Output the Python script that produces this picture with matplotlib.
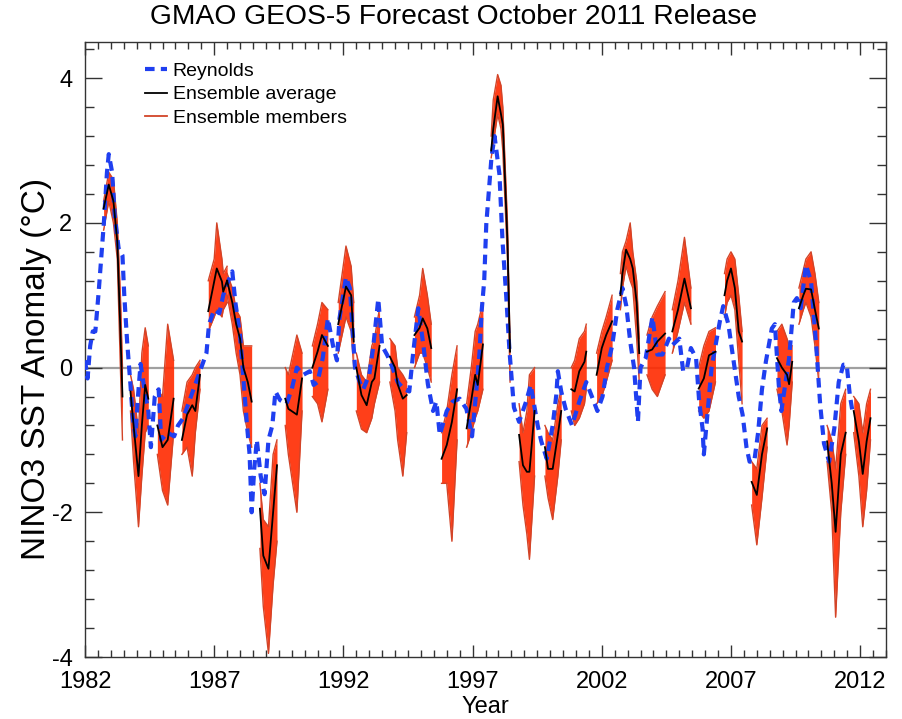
import matplotlib
matplotlib.use("Agg")
import matplotlib.pyplot as plt
from matplotlib.ticker import MultipleLocator
from matplotlib.lines import Line2D

plt.rcParams['font.family'] = ['Liberation Sans', 'DejaVu Sans']
plt.rcParams['axes.unicode_minus'] = False

reynolds_year = [1982.0, 1982.1, 1982.2, 1982.3, 1982.4, 1982.53, 1982.73, 1982.85, 1982.92,
                 1983.05, 1983.15, 1983.3, 1983.45, 1983.52, 1983.63, 1983.76, 1983.85, 1983.95,
                 1984.05, 1984.15, 1984.3, 1984.45, 1984.55, 1984.7, 1984.85, 1984.95, 1985.2,
                 1985.45, 1985.6, 1985.8, 1986.05, 1986.25, 1986.5, 1986.7, 1986.8, 1987.0,
                 1987.2, 1987.35, 1987.55, 1987.7, 1987.82, 1988.0, 1988.15, 1988.27, 1988.37,
                 1988.45, 1988.55, 1988.65, 1988.8, 1988.95, 1989.1, 1989.25, 1989.37, 1989.55,
                 1989.8, 1990.0, 1990.2, 1990.45, 1990.7, 1990.85, 1991.0, 1991.2, 1991.4,
                 1991.6, 1991.75, 1991.85, 1992.1, 1992.25, 1992.45, 1992.63, 1992.77, 1993.0,
                 1993.15, 1993.35, 1993.5, 1993.7, 1993.9, 1994.1, 1994.35, 1994.55, 1994.7,
                 1994.9, 1995.1, 1995.27, 1995.47, 1995.6, 1995.73, 1996.0, 1996.23, 1996.5,
                 1996.76, 1996.98, 1997.15, 1997.27, 1997.35, 1997.45, 1997.53, 1997.73, 1997.85,
                 1998.04, 1998.16, 1998.3, 1998.43, 1998.6, 1998.8, 1999.07, 1999.25, 1999.52,
                 1999.66, 1999.87, 2000.1, 2000.24, 2000.3, 2000.43, 2000.6, 2000.85, 2001.13,
                 2001.4, 2001.65, 2001.83, 2002.03, 2002.2, 2002.4, 2002.6, 2002.8, 2002.95,
                 2003.1, 2003.25, 2003.4, 2003.5, 2003.7, 2003.96, 2004.15, 2004.35, 2004.6,
                 2004.73, 2005.0, 2005.15, 2005.3, 2005.45, 2005.65, 2005.77, 2005.9, 2005.95,
                 2006.05, 2006.25, 2006.57, 2006.7, 2006.9, 2007.05, 2007.3, 2007.45, 2007.6,
                 2007.72, 2007.9, 2008.05, 2008.2, 2008.35, 2008.58, 2008.7, 2008.85, 2008.95,
                 2009.1, 2009.25, 2009.43, 2009.55, 2009.7, 2009.9, 2010.1, 2010.3, 2010.45,
                 2010.6, 2010.8, 2011.0, 2011.17, 2011.35, 2011.48, 2011.6, 2011.7]
reynolds_val = [0.1, -0.15, 0.3, 0.5, 0.5, 1.05, 2.0, 2.7, 2.95,
                2.7, 2.1, 1.65, 1.55, 1.0, 0.36, -0.24, -0.7, -0.95,
                -0.4, 0.05, -0.3, -0.6, -1.1, -0.4, -0.3, -1.0, -0.9,
                -0.95, -0.8, -0.7, -0.45, -0.25, 0.0, 0.2, 0.6, 0.8,
                0.75, 1.0, 1.2, 1.33, 0.9, 0.45, -0.24, -0.8, -1.2,
                -2.0, -1.4, -1.0, -1.5, -1.75, -1.0, -0.8, -0.33, -0.45,
                -0.5, -0.3, 0.0, -0.1, -0.05, -0.24, -0.2, 0.13, 0.68,
                0.3, 0.1, 0.68, 1.25, 1.1, 0.0, -0.2, -0.3, -0.1,
                0.27, 0.95, 0.3, 0.17, 0.0, -0.2, -0.3, -0.33, 0.2,
                0.82, 0.3, -0.23, -0.6, -0.47, -0.93, -0.6, -0.47, -0.43,
                -0.57, -0.95, -0.3, 0.22, 0.78, 1.2, 1.98, 2.9, 3.2,
                2.67, 1.74, 1.0, 0.22, -0.55, -0.75, -0.47, -0.24, -0.8,
                -1.02, -1.26, -0.8, -0.38, -0.05, -0.33, -0.57, -0.8, -0.47,
                -0.2, -0.43, -0.6, -0.4, 0.0, 0.3, 0.8, 1.1, 0.85,
                0.36, 0.0, -0.75, 0.0, 0.13, 0.7, 0.18, 0.18, 0.4,
                0.31, 0.4, -0.05, 0.0, 0.27, 0.13, -0.47, -0.84, -1.2,
                -0.8, 0.0, 0.64, 0.85, 0.6, 0.22, -0.4, -0.65, -1.1,
                -1.3, -1.3, -0.9, -0.3, 0.08, 0.54, 0.6, -0.24, -0.6,
                -0.24, 0.13, 0.9, 0.96, 0.82, 1.42, 1.19, 0.3, -0.5,
                -1.05, -1.3, -0.84, -0.2, 0.04, 0.04, -0.38, -0.6]

# GEOS-5 forecasts: one entry per forecast period
ens_years = [
    [1982.72, 1982.92, 1983.1, 1983.25, 1983.37, 1983.45],
    [1983.76, 1983.88, 1984.07, 1984.2, 1984.33, 1984.45],
    [1984.8, 1985.0, 1985.2, 1985.43],
    [1985.75, 1985.95, 1986.15, 1986.27, 1986.45],
    [1986.77, 1987.0, 1987.1, 1987.3, 1987.35, 1987.5],
    [1987.5, 1987.7, 1987.85, 1988.0, 1988.13, 1988.3, 1988.45],
    [1988.77, 1988.9, 1989.1, 1989.28, 1989.43],
    [1989.75, 1989.87, 1990.2, 1990.4],
    [1990.8, 1991.0, 1991.17, 1991.4],
    [1991.8, 1992.1, 1992.3, 1992.4],
    [1992.5, 1992.7, 1992.9, 1993.1, 1993.2, 1993.4],
    [1993.8, 1994.0, 1994.1, 1994.3, 1994.45],
    [1994.75, 1994.95, 1995.07, 1995.25, 1995.4],
    [1995.8, 1996.0, 1996.2, 1996.4],
    [1996.77, 1996.95, 1997.1, 1997.2, 1997.4],
    [1997.72, 1997.8, 1997.97, 1998.1, 1998.17, 1998.35, 1998.45],
    [1998.8, 1998.95, 1999.1, 1999.2, 1999.4],
    [1999.8, 1999.92, 2000.1, 2000.3, 2000.43],
    [2000.82, 2000.95, 2001.13, 2001.33, 2001.4],
    [2001.8, 2002.0, 2002.17, 2002.4],
    [2002.72, 2002.8, 2002.94, 2003.1, 2003.2, 2003.35, 2003.45],
    [2003.75, 2003.95, 2004.15, 2004.45],
    [2004.73, 2004.95, 2005.2, 2005.45],
    [2005.75, 2005.95, 2006.15, 2006.4],
    [2006.75, 2006.85, 2007.0, 2007.15, 2007.3, 2007.43],
    [2007.8, 2008.0, 2008.2, 2008.4],
    [2008.78, 2008.97, 2009.17, 2009.25, 2009.37],
    [2009.63, 2009.8, 2009.9, 2010.1, 2010.25, 2010.4],
    [2010.72, 2010.9, 2011.05, 2011.25, 2011.44],
    [2011.75, 2011.95, 2012.1, 2012.25, 2012.4],
]
ens_avg = [
    [2.2, 2.53, 2.3, 1.74, 0.5, -0.4],
    [-0.33, -0.8, -1.5, -0.8, -0.24, -0.43],
    [-0.8, -1.1, -1.0, -0.43],
    [-1.0, -0.65, -0.52, -0.6, -0.1],
    [0.78, 1.19, 1.37, 1.19, 1.05, 1.2],
    [1.2, 0.9, 0.6, 0.4, 0.0, -0.2, -0.47],
    [-1.95, -2.6, -2.78, -2.0, -1.35],
    [-0.43, -0.57, -0.65, -0.15],
    [0.0, 0.22, 0.45, 0.3],
    [0.6, 1.12, 1.0, 0.36],
    [0.0, -0.38, -0.52, -0.2, -0.15, 0.3],
    [0.15, 0.0, -0.23, -0.43, -0.38],
    [0.45, 0.55, 0.68, 0.54, 0.27],
    [-1.26, -1.07, -0.75, -0.3],
    [-0.84, -0.45, -0.1, -0.24, 0.32],
    [3.0, 3.3, 3.75, 3.5, 3.36, 1.74, 0.22],
    [-0.93, -1.35, -1.44, -1.44, -0.6],
    [-1.1, -1.4, -1.4, -0.93, -0.6],
    [-0.3, -0.33, -0.05, 0.08, 0.22],
    [-0.1, 0.27, 0.45, 0.64],
    [1.0, 1.3, 1.63, 1.5, 1.37, 0.9, 0.2],
    [0.22, 0.25, 0.36, 0.47],
    [0.5, 0.8, 1.23, 0.82],
    [-0.29, -0.15, 0.17, 0.22],
    [1.0, 1.2, 1.37, 1.1, 0.5, 0.36],
    [-1.58, -1.76, -1.2, -0.84],
    [0.13, 0.0, -0.1, -0.23, 0.08],
    [0.82, 1.0, 1.09, 1.08, 0.8, 0.54],
    [-1.02, -1.6, -2.27, -1.2, -0.9],
    [-0.6, -1.02, -1.47, -1.02, -0.7],
]
# highest and lowest ensemble member at each time
ens_hi = [
    [2.3, 2.7, 2.6, 2.0, 1.0, 0.0],
    [-0.1, -0.3, -0.9, 0.2, 0.55, 0.3],
    [-0.3, -0.4, 0.6, 0.1],
    [-0.6, -0.2, -0.1, 0.0, 0.1],
    [1.2, 1.5, 2.0, 1.5, 1.3, 1.4],
    [1.3, 1.1, 0.8, 0.7, 0.3, 0.3, 0.3],
    [-1.6, -2.1, -2.2, -1.2, -1.0],
    [0.0, -0.1, 0.45, 0.2],
    [0.3, 0.6, 0.9, 0.8],
    [0.9, 1.68, 1.4, 0.9],
    [0.2, -0.1, -0.2, 0.3, 0.4, 0.82],
    [0.4, 0.3, 0.0, -0.1, -0.2],
    [0.7, 1.0, 1.37, 1.0, 0.6],
    [-0.9, -0.6, -0.1, 0.3],
    [-0.5, 0.0, 0.5, 0.6, 0.9],
    [3.2, 3.7, 4.05, 3.9, 3.6, 2.0, 0.3],
    [-0.5, -0.9, -0.6, -0.1, 0.0],
    [-0.8, -0.9, -1.0, -0.5, -0.3],
    [0.0, 0.1, 0.4, 0.5, 0.6],
    [0.2, 0.5, 0.7, 1.0],
    [1.3, 1.6, 1.75, 2.0, 1.6, 1.2, 0.4],
    [0.45, 0.7, 0.85, 1.05],
    [0.8, 1.2, 1.8, 1.1],
    [0.0, 0.3, 0.5, 0.55],
    [1.3, 1.5, 1.6, 1.5, 1.0, 0.5],
    [-1.3, -1.4, -0.8, -0.7],
    [0.5, 0.6, 0.4, 0.3, 0.3],
    [1.1, 1.35, 1.5, 1.6, 1.3, 0.9],
    [-0.8, -1.0, -1.4, -0.5, -0.3],
    [-0.4, -0.5, -0.9, -0.5, -0.3],
]
ens_lo = [
    [1.9, 2.3, 2.0, 1.5, 0.0, -1.0],
    [-0.6, -1.3, -2.2, -1.5, -0.9, -0.8],
    [-1.2, -1.7, -1.9, -0.9],
    [-1.2, -1.1, -1.5, -0.9, -0.3],
    [0.5, 0.7, 0.8, 0.7, 0.8, 0.9],
    [1.0, 0.6, 0.2, -0.1, -0.6, -0.9, -1.1],
    [-2.5, -3.3, -3.95, -3.0, -2.4],
    [-0.8, -1.2, -2.0, -0.6],
    [-0.4, -0.5, -0.75, -0.3],
    [0.2, 0.7, 0.5, 0.0],
    [-0.6, -0.85, -0.9, -0.7, -0.5, -0.2],
    [-0.2, -0.6, -1.0, -1.5, -0.9],
    [0.0, 0.2, 0.2, 0.0, -0.2],
    [-1.6, -1.6, -2.4, -1.0],
    [-1.1, -0.9, -0.7, -0.6, -0.3],
    [2.9, 3.1, 3.5, 3.3, 3.0, 1.5, -0.2],
    [-1.3, -1.9, -2.3, -2.65, -1.5],
    [-1.5, -1.8, -2.1, -1.5, -1.0],
    [-0.6, -0.8, -0.7, -0.5, -0.3],
    [-0.5, -0.4, -0.2, 0.1],
    [0.8, 1.1, 1.4, 1.2, 1.1, 0.4, -0.2],
    [-0.1, -0.3, -0.4, -0.1],
    [0.2, 0.5, 0.9, 0.6],
    [-0.6, -0.7, -0.6, -0.2],
    [0.7, 0.9, 1.0, 0.8, 0.1, -0.5],
    [-1.9, -2.45, -1.8, -1.1],
    [-0.3, -0.6, -1.07, -0.8, -0.2],
    [0.6, 0.8, 0.9, 0.7, 0.3, -0.2],
    [-1.3, -2.0, -3.45, -2.0, -1.2],
    [-0.9, -1.5, -2.2, -1.7, -1.0],
]

blue = '#1f3ff0'
member_fill = '#ff2a00'
member_edge = '#d24428'

fig = plt.figure(figsize=(9.02, 7.19), dpi=100)
ax = fig.add_axes([85 / 902, 62 / 719, 801 / 902, 615 / 719])

ax.axhline(0, color='#a0a0a0', lw=1.6, zorder=1)

for yrs, avg, hi, lo in zip(ens_years, ens_avg, ens_hi, ens_lo):
    ax.fill_between(yrs, lo, hi, color=member_fill, lw=0, alpha=0.9, zorder=2)
    ax.plot(yrs, hi, color=member_edge, lw=1.0, zorder=3)
    ax.plot(yrs, lo, color=member_edge, lw=1.0, zorder=3)

ax.plot(reynolds_year, reynolds_val, color=blue, lw=3.0,
        linestyle=(0, (2.3, 1.5)), zorder=4)

for yrs, avg in zip(ens_years, ens_avg):
    ax.plot(yrs, avg, color='black', lw=1.3, zorder=5)

ax.set_xlim(1982, 2013)
ax.set_ylim(-4, 4.5)
ax.xaxis.set_major_locator(MultipleLocator(5))
ax.xaxis.set_minor_locator(MultipleLocator(0.5))
ax.set_xticks(range(1982, 2013, 5))
ax.yaxis.set_major_locator(MultipleLocator(2))
ax.yaxis.set_minor_locator(MultipleLocator(0.4))
ax.tick_params(axis='both', which='both', direction='in', top=True, right=True,
               colors='#333333', labelcolor='black', width=1.0)
ax.tick_params(axis='x', which='major', length=9, pad=10, labelsize=17)
ax.tick_params(axis='x', which='minor', length=5)
ax.tick_params(axis='y', which='major', length=12, pad=9, labelsize=17)
ax.tick_params(axis='y', which='minor', length=6.5)
for s in ax.spines.values():
    s.set_color('#333333')
    s.set_linewidth(1.0)

ax.set_xlabel('Year', fontsize=17, labelpad=2)
ax.set_ylabel('NINO3 SST Anomaly (\u00b0C)', fontsize=24)
ax.yaxis.set_label_coords(-0.041, 0.468)
fig.text(0.503, 0.976, 'GMAO GEOS-5 Forecast October 2011 Release', ha='center',
         va='center', fontsize=20.3)

handles = [Line2D([], [], color=blue, lw=3.0, linestyle=(0, (2.3, 1.5))),
           Line2D([], [], color='black', lw=1.3),
           Line2D([], [], color=member_edge, lw=1.3)]
ax.legend(handles, ['Reynolds', 'Ensemble average', 'Ensemble members'],
          loc='upper left', bbox_to_anchor=(0.075, 0.967), frameon=False,
          fontsize=14, handlelength=1.15, handletextpad=0.27, labelspacing=0.3,
          borderpad=0.0, borderaxespad=0.0)

fig.savefig('out.png', dpi=100)
